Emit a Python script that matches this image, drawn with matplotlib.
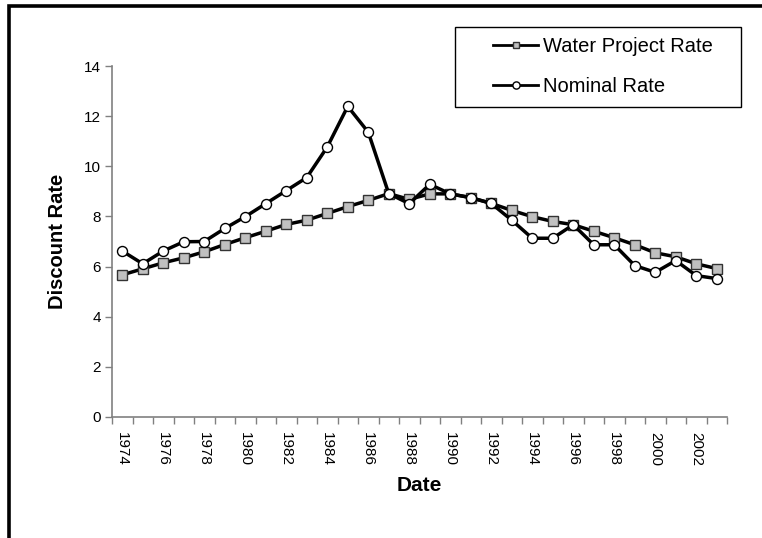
import matplotlib
matplotlib.use("Agg")
import matplotlib.pyplot as plt
from matplotlib.patches import Rectangle
import numpy as np

plt.rcParams['font.family'] = ['Liberation Sans', 'DejaVu Sans']

years = list(range(1974, 2004))
water_rate = [5.67, 5.91, 6.15, 6.35, 6.59, 6.88, 7.15, 7.41, 7.68, 7.85,
              8.12, 8.39, 8.64, 8.91, 8.68, 8.90, 8.90, 8.75, 8.52, 8.24,
              7.99, 7.80, 7.67, 7.41, 7.15, 6.87, 6.55, 6.39, 6.11, 5.92]
nominal_rate = [6.62, 6.11, 6.62, 6.99, 7.00, 7.52, 7.99, 8.51, 9.03, 9.55,
                10.77, 12.39, 11.36, 8.91, 8.51, 9.28, 8.90, 8.75, 8.52, 7.85,
                7.13, 7.13, 7.67, 6.87, 6.87, 6.04, 5.77, 6.24, 5.64, 5.52]
y_ticks = [0, 2, 4, 6, 8, 10, 12, 14]
series_names = ["Water Project Rate", "Nominal Rate"]

W, H = 762, 538
fig = plt.figure(figsize=(W / 100, H / 100), dpi=100)
ax = fig.add_axes([112 / W, 1 - 417 / H, (727 - 112) / W, (417 - 66) / H])

x = np.arange(len(years))
ax.plot(x, water_rate, color='black', lw=2.5, marker='s', ms=6.8,
        mfc='#C0C0C0', mec='#333333', mew=1.0, label=series_names[0], zorder=3)
ax.plot(x, nominal_rate, color='black', lw=2.5, marker='o', ms=7.2,
        mfc='white', mec='black', mew=1.0, label=series_names[1], zorder=4)

ax.set_xlim(-0.5, len(years) - 0.5)
ax.set_ylim(0, 14)
ax.set_yticks(y_ticks)
ax.set_yticklabels([str(v) for v in y_ticks], fontsize=11)

label_idx = [i for i, yv in enumerate(years) if (yv - 1974) % 2 == 0]
ax.set_xticks(label_idx)
ax.set_xticklabels([str(years[i]) for i in label_idx], rotation=-90,
                   fontsize=11, va='top', ha='center')
ax.set_xticks(np.arange(-0.5, len(years), 1.0), minor=True)
ax.tick_params(axis='x', which='major', length=0, pad=11)
ax.tick_params(axis='x', which='minor', length=5, color='#808080', width=1)
ax.tick_params(axis='y', which='major', length=5, color='#808080', width=1, pad=3)

for s in ['top', 'right']:
    ax.spines[s].set_visible(False)
for s in ['left', 'bottom']:
    ax.spines[s].set_color('#808080')
    ax.spines[s].set_linewidth(1.2)

ax.set_ylabel("Discount Rate", fontsize=14.5, fontweight='bold', labelpad=12)
ax.set_xlabel("Date", fontsize=15, fontweight='bold', labelpad=7)

# legend frame
fig.add_artist(Rectangle((455 / W, 1 - 107 / H), (741 - 455) / W, 80 / H,
                         transform=fig.transFigure, facecolor='white',
                         edgecolor='black', linewidth=1.0, zorder=5))
handles, labels = ax.get_legend_handles_labels()
leg = fig.legend(handles, labels, loc='center left', bbox_to_anchor=(493 / W, 1 - 66.5 / H),
                 bbox_transform=fig.transFigure, borderaxespad=0, borderpad=0,
                 frameon=False, fontsize=14.5, handlelength=2.25, handletextpad=0.25,
                 labelspacing=1.05, markerscale=0.72)
leg.set_zorder(6)
for lh in leg.get_lines():
    lh.set_linewidth(2.0)

# outer chart frame (only top and left edges visible)
fig.add_artist(Rectangle((9 / W, -0.1), 1.2, 1 - 6 / H + 0.1, transform=fig.transFigure,
                         fill=False, edgecolor='black', linewidth=2.6, clip_on=False))

fig.savefig("out.png", dpi=100)
